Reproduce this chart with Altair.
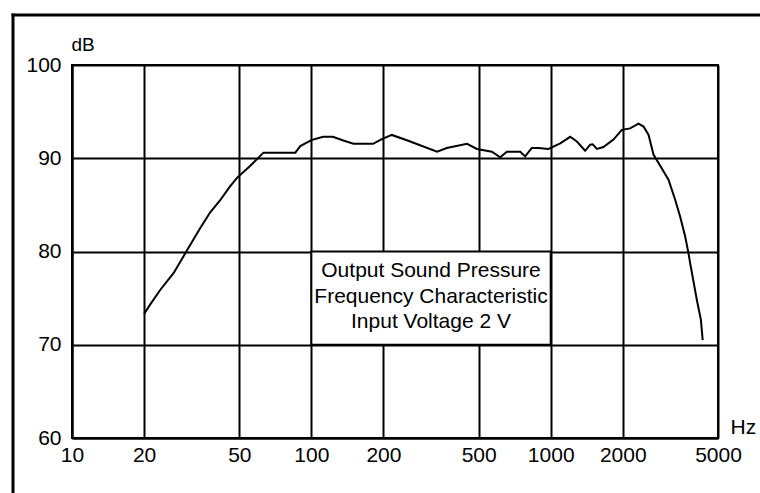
import altair as alt
import pandas as pd

# Frequency response (Hz, dB)
freq = [20, 21.2, 23.4, 26.6, 30.2, 34.3, 37.8, 41.6, 45.5, 48.9, 55.6, 63.1, 85.7, 89.9,
        100, 112, 123, 136, 150, 181, 197, 217, 259, 335, 368, 447, 492, 568, 615, 656,
        746, 782, 834, 889, 979, 1096, 1206, 1286, 1393, 1462, 1497, 1560, 1661, 1829,
        1982, 2147, 2327, 2443, 2564, 2688, 2913, 3106, 3311, 3473, 3646, 3765, 3825,
        4080, 4240, 4315]
db = [73.3, 74.3, 75.9, 77.7, 80.1, 82.5, 84.2, 85.5, 86.9, 87.9, 89.2, 90.6, 90.6, 91.3,
      91.95, 92.3, 92.3, 91.9, 91.55, 91.55, 92.05, 92.5, 91.8, 90.7, 91.1, 91.55, 91.0, 90.7, 90.1, 90.7,
      90.7, 90.2, 91.1, 91.1, 91.0, 91.6, 92.3, 91.8, 90.8, 91.45, 91.5, 91.0, 91.2, 92.0,
      93.05, 93.2, 93.7, 93.4, 92.5, 90.4, 88.9, 87.7, 85.55, 83.75, 81.6, 79.8, 78.75,
      74.8, 72.7, 70.5]

x_ticks = [10, 20, 50, 100, 200, 500, 1000, 2000, 5000]
y_ticks = [60, 70, 80, 90, 100]

note_lines = ["Output Sound Pressure", "Frequency Characteristic", "Input Voltage 2 V"]
note_box_f = [100, 1000]
note_box_db = [70, 80]
note_pos = [316.2, 77.9]

FONT = "Liberation Sans"

df = pd.DataFrame({"f": freq, "db": db})
box_df = pd.DataFrame({"f1": [note_box_f[0]], "f2": [note_box_f[1]],
                       "d1": [note_box_db[0]], "d2": [note_box_db[1]]})
note_df = pd.DataFrame({"f": [note_pos[0]], "db": [note_pos[1]], "t": ["\n".join(note_lines)]})

x_scale = alt.Scale(type="log", domain=[10, 5000], nice=False)
y_scale = alt.Scale(domain=[60, 100], nice=False, zero=False)

x_axis = alt.Axis(values=x_ticks, title="Hz", grid=True, gridColor="black", gridWidth=2,
                  gridOpacity=1, domain=True, domainColor="black", domainWidth=2, ticks=False,
                  labelFontSize=21, labelColor="black", labelFont=FONT, labelPadding=6,
                  labelFlush=False, labelOverlap=False, format="d",
                  titleX=658, titleY=-5, titleAlign="left", titleBaseline="alphabetic",
                  titleFontWeight="normal", titleFontSize=21, titleFont=FONT, titleColor="black")
y_axis = alt.Axis(values=y_ticks, title="dB", grid=True, gridColor="black", gridWidth=2,
                  gridOpacity=1, domain=True, domainColor="black", domainWidth=2, ticks=False,
                  labelFontSize=21, labelColor="black", labelFont=FONT, labelPadding=11,
                  labelFlush=False, labelOverlap=False,
                  titleAngle=0, titleX=-1, titleY=-15, titleAlign="left", titleBaseline="alphabetic",
                  titleFontWeight="normal", titleFontSize=19, titleFont=FONT, titleColor="black")

line = alt.Chart(df).mark_line(color="black", strokeWidth=2).encode(
    x=alt.X("f:Q", scale=x_scale, axis=x_axis),
    y=alt.Y("db:Q", scale=y_scale, axis=y_axis),
)

box = alt.Chart(box_df).mark_rect(fill="white", stroke="black", strokeWidth=2).encode(
    x=alt.X("f1:Q", scale=x_scale), x2="f2:Q",
    y=alt.Y("d1:Q", scale=y_scale), y2="d2:Q",
)

note = alt.Chart(note_df).mark_text(lineBreak="\n", lineHeight=25.5, fontSize=21, font=FONT,
                                    color="black", align="center", baseline="middle").encode(
    x=alt.X("f:Q", scale=x_scale), y=alt.Y("db:Q", scale=y_scale), text="t:N")

one = pd.DataFrame({"a": [0]})
frame_top = alt.Chart(one).mark_rule(color="black", strokeWidth=3).encode(
    x=alt.value(-60.5), x2=alt.value(700), y=alt.value(-50))
frame_left = alt.Chart(one).mark_rule(color="black", strokeWidth=3).encode(
    x=alt.value(-59), y=alt.value(-51.5), y2=alt.value(440))

chart = alt.layer(box, note, line, frame_top, frame_left).properties(
    width=646, height=373,
    autosize=alt.AutoSizeParams(type="none"),
    padding={"left": 72, "top": 65, "right": 42, "bottom": 55},
    background="white",
).configure_view(stroke="black", strokeWidth=2)

chart.save("out.html", embed_options={"renderer": "svg", "actions": False})
